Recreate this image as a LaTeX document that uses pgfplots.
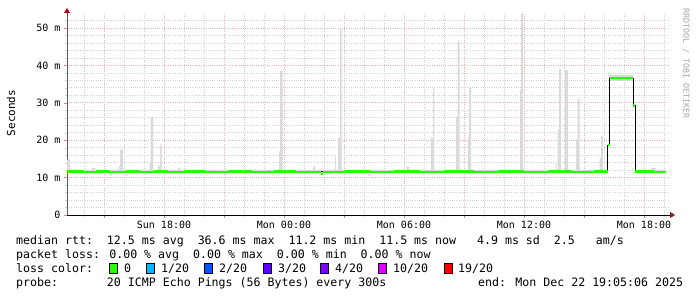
\documentclass[border=0pt]{standalone}
\usepackage{pgfplots}
\pgfplotsset{compat=1.18}
\usepackage{fontspec}
\usetikzlibrary{arrows.meta}
\newfontfamily\rrd{DejaVu Sans Mono}
\definecolor{smoke}{HTML}{DADADA}
\definecolor{med}{HTML}{26FF00}
\definecolor{mgrid}{HTML}{EDB3B3}
\definecolor{ngrid}{HTML}{D2D2D2}
\definecolor{arr}{HTML}{8B1A1A}
\definecolor{lz}{HTML}{26FF00}
\definecolor{la}{HTML}{00B8FF}
\definecolor{lb}{HTML}{0059FF}
\definecolor{lc}{HTML}{5E00FF}
\definecolor{ld}{HTML}{7E00FF}
\definecolor{le}{HTML}{DD00FF}
\definecolor{lf}{HTML}{FF0000}
\newcommand{\lfont}{\rrd\fontsize{11.6}{14}\selectfont}
\newcommand{\tfont}{\rrd\fontsize{10}{12}\selectfont}
\begin{document}
\begin{tikzpicture}[x=1pt,y=1pt]
\path[use as bounding box] (0pt,0pt) rectangle (697pt,297pt);
\begin{axis}[
  at={(67pt,82pt)}, anchor=south west,
  width=602pt, height=202pt, scale only axis,
  xmin=13.15, xmax=43.25, ymin=0, ymax=54,
  axis lines=left,
  axis line style={-},
  x axis line style={black, shorten >=-6pt, -{Triangle[length=5pt,width=6pt,color=arr]}},
  y axis line style={black!65, shorten >=-5pt, -{Triangle[length=5pt,width=6pt,color=arr]}},
  xtick={15,18,...,42},
  xticklabels={,Sun 18:00,,Mon 00:00,,Mon 06:00,,Mon 12:00,,Mon 18:00},
  minor xtick={14,16,17,19,20,22,23,25,26,28,29,31,32,34,35,37,38,40,41,43},
  ytick={0,10,...,50},
  yticklabels={0,10 m,20 m,30 m,40 m,50 m},
  minor ytick={2,4,6,8,12,14,16,18,22,24,26,28,32,34,36,38,42,44,46,48,52},
  grid=both,
  major grid style={mgrid, dash pattern=on 1pt off 1.2pt, line width=0.7pt},
  minor grid style={ngrid, dash pattern=on 1pt off 1.2pt, line width=0.7pt},
  tick align=outside,
  major tick length=3pt, minor tick length=2pt,
  major tick style={mgrid!70!red},
  minor tick style={ngrid},
  xticklabel style={font=\tfont, text=black},
  yticklabel style={font=\tfont, text=black},
  clip=false,
]
% smoke (min..max envelope)
\addplot[fill=smoke, draw=none] coordinates {
 (13.15,11.3) (13.15,14.8) (13.3,14.8) (13.3,12.1)
 (14.4,12.1) (14.4,12.5) (14.55,12.5) (14.55,12.1)
 (15.75,12.1) (15.75,13) (15.8,13) (15.8,17.5) (15.95,17.5) (15.95,12.1)
 (17.275,12.1) (17.275,14) (17.325,14) (17.325,26.3) (17.45,26.3) (17.45,12.1)
 (17.7,12.1) (17.7,13.2) (17.8,13.2) (17.8,18.8) (17.875,18.8) (17.875,12.1)
 (18.7,12.1) (18.7,12.6) (18.8,12.6) (18.8,12.1)
 (23.75,12.1) (23.75,17) (23.8,17) (23.8,38.5) (23.925,38.5) (23.925,12.1)
 (25.45,12.1) (25.45,13) (25.55,13) (25.55,12.1)
 (26.55,12.1) (26.55,15.7) (26.6,15.7) (26.6,12.1)
 (26.7,12.1) (26.7,20.7) (26.8,20.7) (26.8,49.7) (26.875,49.7) (26.875,12.1)
 (30.15,12.1) (30.15,13) (30.25,13) (30.25,12.1)
 (31.35,12.1) (31.35,20.7) (31.45,20.7) (31.45,33.9) (31.5,33.9) (31.5,12.1)
 (32.6,12.1) (32.6,26.3) (32.675,26.3) (32.675,46.6) (32.775,46.6) (32.775,12.1)
 (33.2,12.1) (33.2,20.7) (33.25,20.7) (33.25,34) (33.35,34) (33.35,12.1)
 (35.8,12.1) (35.8,33.4) (35.85,33.4) (35.85,53.8) (35.95,53.8) (35.95,12.1)
 (37.575,12.1) (37.575,14) (37.625,14) (37.625,12.1)
 (37.675,12.1) (37.675,22.8) (37.75,22.8) (37.75,39) (37.85,39) (37.85,12.1)
 (38.05,12.1) (38.05,38.7) (38.2,38.7) (38.2,12.1)
 (38.6,12.1) (38.6,20.2) (38.675,20.2) (38.675,31.2) (38.775,31.2) (38.775,12.1)
 (39.775,12.1) (39.775,15.3) (39.85,15.3) (39.85,21) (39.95,21) (39.95,12.1)
 (40.175,12.1) (40.175,11.3)
} -- cycle;
\addplot[fill=smoke, draw=none] coordinates {
 (40.25,35.9) (40.25,37.3) (41.45,37.3) (41.45,35.9)
} -- cycle;
\addplot[fill=smoke, draw=none] coordinates {
 (41.55,11.3) (41.55,12.1) (42.35,12.1) (42.35,12.5) (42.6,12.5) (42.6,12.1) (43.08,12.1) (43.08,11.3)
} -- cycle;
% median (black thin)
\addplot[const plot mark left, black, line width=1pt] coordinates {
 (13.15,11.55) (40.175,18.7) (40.25,36.6) (41.45,29.2) (41.55,11.55) (43.08,11.55)
};
% median coloured by loss (0 loss = green)
\addplot[jump mark left, med, line width=2.6pt] coordinates {
 (13.15,11.6) (14.0,11.5) (14.6,11.65) (15.3,11.5) (16.1,11.6) (16.8,11.5)
 (17.5,11.65) (18.2,11.5) (19.0,11.6) (20.1,11.5) (21.2,11.55) (22.4,11.5)
 (23.5,11.6) (24.6,11.5) (25.85,11.0) (25.95,11.5) (27.0,11.6) (28.3,11.5)
 (29.5,11.55) (30.8,11.5) (32.0,11.6) (33.5,11.5) (34.7,11.55) (36.0,11.5)
 (37.2,11.6) (38.4,11.5) (39.5,11.55) (40.175,18.7) (40.3,36.6) (41.45,29.2)
 (41.55,11.55) (42.5,11.45) (43.08,11.45)
};
\end{axis}
\node[font=\rrd\fontsize{11}{13}\selectfont, rotate=90] at (11pt,184pt) {Seconds};
\node[font=\rrd\fontsize{8.3}{10}\selectfont, text=black!35, rotate=-90, anchor=west] at (686pt,292pt) {RRDTOOL / TOBI OETIKER};
\begin{scope}[every node/.style={font=\lfont, anchor=base west, inner sep=0pt}]
\node at (16pt,52pt) {median rtt:~~12.5 ms avg~~36.6 ms max~~11.2 ms min~~11.5 ms now~~~4.9 ms sd~~2.5~~~am/s};
\node at (16pt,38pt) {packet loss: 0.00 \% avg~~0.00 \% max~~0.00 \% min~~0.00 \% now};
\node at (16pt,24.5pt) {loss color:};
\node at (16pt,10pt) {probe:~~~~~~~20 ICMP Echo Pings (56 Bytes) every 300s};
\node at (478pt,10pt) {end: Mon Dec 22 19:05:06 2025};
\node at (124pt,24.5pt) {0};
\node at (161pt,24.5pt) {1/20};
\node at (219pt,24.5pt) {2/20};
\node at (278pt,24.5pt) {3/20};
\node at (335pt,24.5pt) {4/20};
\node at (393pt,24.5pt) {10/20};
\node at (458pt,24.5pt) {19/20};
\end{scope}
\foreach \xx/\cc in {109/lz,146/la,204/lb,263/lc,320/ld,378/le,444/lf}{
  \draw[black, fill=\cc, line width=0.8pt] (\xx pt,23.5pt) rectangle ++(8pt,10pt);
}
\end{tikzpicture}
\end{document}
